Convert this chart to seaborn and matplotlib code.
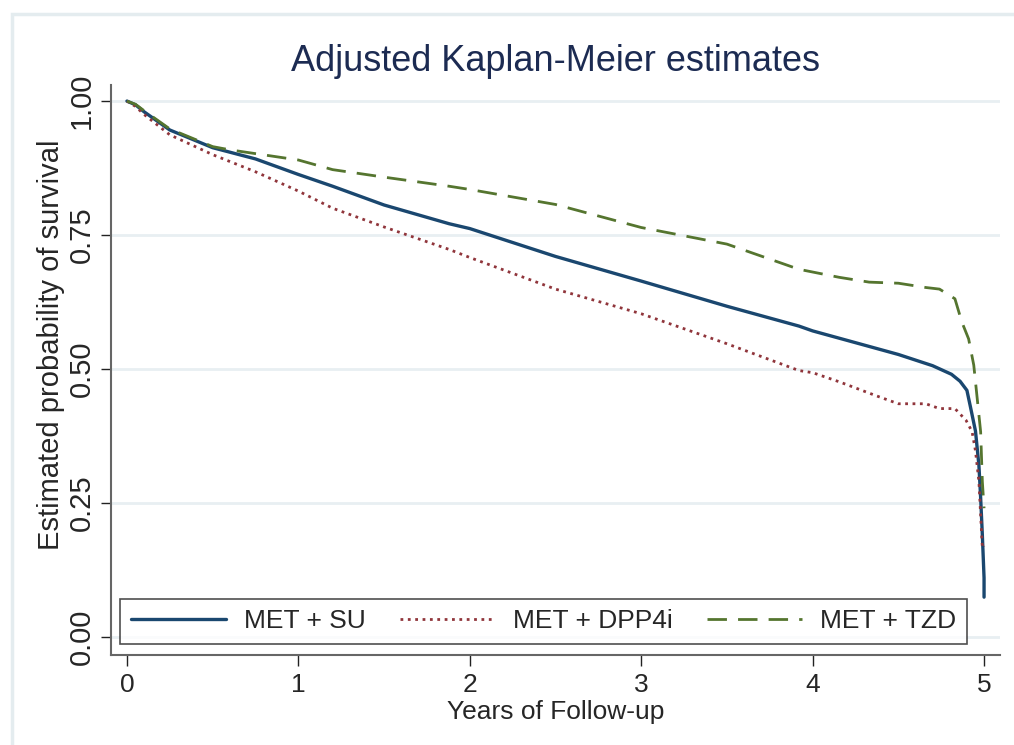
import numpy as np
import pandas as pd
import matplotlib
matplotlib.use("Agg")
import matplotlib.pyplot as plt
import seaborn as sns

# ---- data ----
t_su = [0.0, 0.05, 0.1, 0.25, 0.5, 0.75, 1.0, 1.2, 1.5, 1.88, 2.0, 2.5, 3.0, 3.5, 3.92, 4.0,
        4.5, 4.7, 4.81, 4.86, 4.9, 4.92, 4.95, 4.97, 4.98, 4.99, 5.0, 5.0]
s_su = [1.0, 0.993, 0.98, 0.946, 0.913, 0.892, 0.863, 0.841, 0.806, 0.771, 0.762, 0.71, 0.664,
        0.617, 0.58, 0.571, 0.527, 0.506, 0.49, 0.477, 0.46, 0.43, 0.384, 0.32, 0.26, 0.19,
        0.11, 0.074]

t_dpp = [0.0, 0.05, 0.1, 0.25, 0.5, 0.75, 1.0, 1.2, 1.5, 1.88, 2.0, 2.5, 3.0, 3.5, 3.92, 4.0,
         4.155, 4.37, 4.5, 4.66, 4.74, 4.83, 4.895, 4.93, 4.95, 4.97, 4.98, 4.99, 5.0]
s_dpp = [1.0, 0.99, 0.975, 0.937, 0.90, 0.868, 0.832, 0.80, 0.765, 0.723, 0.708, 0.649, 0.603,
         0.547, 0.497, 0.493, 0.476, 0.45, 0.435, 0.435, 0.426, 0.426, 0.404, 0.383, 0.347,
         0.29, 0.228, 0.166, 0.17]

t_tzd = [0.0, 0.05, 0.1, 0.25, 0.5, 0.6, 1.0, 1.2, 1.5, 1.88, 2.0, 2.5, 3.0, 3.5, 3.92, 4.155,
         4.33, 4.5, 4.66, 4.74, 4.83, 4.87, 4.91, 4.94, 4.96, 4.98, 4.99, 5.0]
s_tzd = [1.0, 0.994, 0.982, 0.948, 0.915, 0.909, 0.89, 0.872, 0.858, 0.841, 0.835, 0.807,
         0.764, 0.733, 0.686, 0.671, 0.662, 0.66, 0.652, 0.649, 0.631, 0.588, 0.556, 0.507,
         0.445, 0.383, 0.29, 0.24]

groups = ["MET + SU", "MET + DPP4i", "MET + TZD"]
colors = ["#1a476f", "#90353b", "#55752f"]
x_ticks = [0, 1, 2, 3, 4, 5]
y_ticks = [0.0, 0.25, 0.5, 0.75, 1.0]
y_tick_labels = ["0.00", "0.25", "0.50", "0.75", "1.00"]

df = pd.concat([
    pd.DataFrame({"t": t_su, "s": s_su, "g": groups[0]}),
    pd.DataFrame({"t": t_dpp, "s": s_dpp, "g": groups[1]}),
    pd.DataFrame({"t": t_tzd, "s": s_tzd, "g": groups[2]}),
], ignore_index=True)

sns.set_style("white")
FAM = ["Liberation Sans", "DejaVu Sans"]
plt.rcParams["font.family"] = FAM

fig = plt.figure(figsize=(10.14, 7.45), dpi=100)
fig.patches.append(plt.Rectangle((12 / 1014, -0.05), 1.2, 1 - 14 / 745 + 0.05,
                                 transform=fig.transFigure, fill=False,
                                 edgecolor="#e4ecef", linewidth=2.5, zorder=0))

ax = fig.add_axes([111 / 1014, 1 - 655 / 745, (1000 - 111) / 1014, (655 - 85) / 745])

for g, c, ls, lw in zip(groups, colors, ["-", ":", (0, (7, 4))], [2.4, 2.0, 2.0]):
    sub = df[df.g == g]
    sns.lineplot(data=sub, x="t", y="s", sort=False, estimator=None, ax=ax,
                 color=c, linestyle=ls, linewidth=lw, label=g)

ax.set_xlim(-0.093, 5.093)
ax.set_ylim(-0.034, 1.03)
ax.set_xticks(x_ticks)
ax.set_xticklabels([str(v) for v in x_ticks], fontsize=19)
ax.set_yticks(y_ticks)
ax.set_yticklabels(y_tick_labels, rotation=90, va="center", fontsize=21)
ax.tick_params(axis="both", width=1, color="#222222", direction="out", left=True, bottom=True)
ax.tick_params(axis="y", length=7, pad=4)
ax.tick_params(axis="x", length=8, pad=5)
for y in y_ticks:
    ax.axhline(y, color="#e8eff2", linewidth=2, zorder=0)
for sp in ["top", "right"]:
    ax.spines[sp].set_visible(False)
for sp in ["left", "bottom"]:
    ax.spines[sp].set_color("#666666")
    ax.spines[sp].set_linewidth(1.5)

ax.set_xlabel("Years of Follow-up", fontsize=19)
ax.xaxis.set_label_coords(0.5, (655 - 712) / 570)
ax.xaxis.label.set_va("center")
ax.set_ylabel("Estimated probability of survival", fontsize=21)
ax.yaxis.set_label_coords((51 - 111) / 889, (655 - 345) / 570)
ax.yaxis.label.set_va("center")
ax.set_title("Adjusted Kaplan-Meier estimates", fontsize=26, color="#1c2b52", pad=10)

leg = ax.legend(loc="lower left", bbox_to_anchor=(9 / 889, (655 - 644) / 570, 847 / 889, 46 / 570),
                mode="expand", ncol=3, prop={"size": 19}, frameon=True,
                fancybox=False, handlelength=3.6, borderpad=0.4, columnspacing=1.5,
                handletextpad=0.68, borderaxespad=0)
leg.get_frame().set_edgecolor("#222222")
leg.get_frame().set_linewidth(1.2)

fig.savefig("out.png", dpi=100)
